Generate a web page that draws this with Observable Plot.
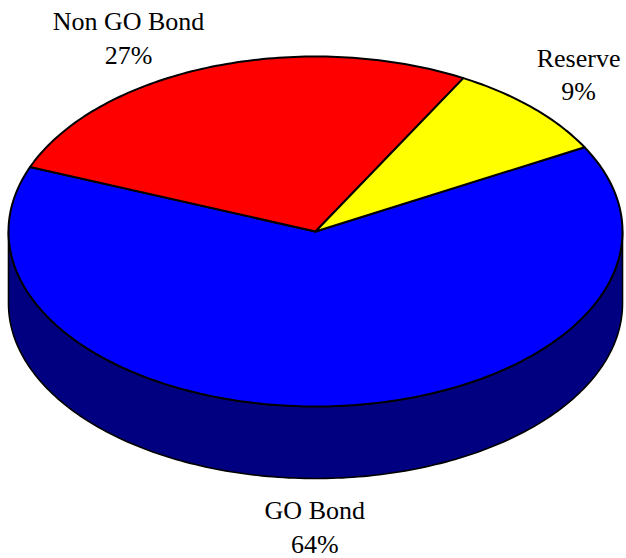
<!DOCTYPE html>
<html>
<head>
<meta charset="utf-8">
<script src="https://cdn.jsdelivr.net/npm/d3@7"></script>
<script src="https://cdn.jsdelivr.net/npm/@observablehq/plot@0.6"></script>
<style>
  html, body { margin: 0; padding: 0; background: #ffffff; }
  #chart { width: 626px; height: 558px; }
</style>
</head>
<body>
<div id="chart"></div>
<script>
// ---- data ----
const categories = ["GO Bond", "Non GO Bond", "Reserve"];
const values = [64, 27, 9];
const percentLabels = ["64%", "27%", "9%"];

// ---- styles ----
const topColors = ["#0000ff", "#ff0000", "#ffff00"];
const sideColors = ["#000080", "#800000", "#808000"];

// ---- layout (pixels in the drawing's own x/y scale) ----
const W = 626, H = 558;
const pie = {cx: 315, cy: 231, rx: 307, ry: 175, depth: 72, startDeg: 28.8};
const labelOffsets = {
  "GO Bond": {dx: -20, dy: 47},
  "Non GO Bond": {dx: -83, dy: -31},
  "Reserve": {dx: 46, dy: -35}
};

const rad = d => d * Math.PI / 180;
const ex = t => pie.cx + pie.rx * Math.cos(rad(t));
const ey = (t, down = 0) => pie.cy - pie.ry * Math.sin(rad(t)) + down;

const total = d3.sum(values);
let cum = 0;
const slices = categories.map((c, i) => {
  const a0 = pie.startDeg - cum / total * 360;
  cum += values[i];
  const a1 = pie.startDeg - cum / total * 360;
  return {cat: c, i, a0, a1, mid: (a0 + a1) / 2};
});

function arc(from, to, down = 0) {
  const n = Math.max(2, Math.ceil(Math.abs(to - from)));
  return d3.range(n + 1).map(k => {
    const t = from + (to - from) * k / n;
    return {x: ex(t), y: ey(t, down)};
  });
}

// top faces
const topPolys = slices.map(s => {
  const pts = [{x: pie.cx, y: pie.cy}, ...arc(s.a0, s.a1), {x: pie.cx, y: pie.cy}];
  return {s, pts};
});

// front side walls (visible for angles in [-180, 0] mod 360)
const sidePolys = [];
slices.forEach(s => {
  const lo = s.a1, hi = s.a0;
  for (let k = -2; k <= 1; k++) {
    const fLo = -180 + 360 * k, fHi = 0 + 360 * k;
    const a = Math.max(lo, fLo), b = Math.min(hi, fHi);
    if (b > a) {
      const pts = [...arc(a, b), ...arc(b, a, pie.depth)];
      pts.push(pts[0]);
      sidePolys.push({s, pts});
    }
  }
});

// labels
const labels = slices.map(s => {
  const down = Math.sin(rad(s.mid)) < 0 ? pie.depth : 0;
  const off = labelOffsets[s.cat];
  return {
    x: ex(s.mid) + off.dx,
    y: ey(s.mid, down) + off.dy,
    text: s.cat + "\n" + percentLabels[s.i]
  };
});

const marks = [];
sidePolys.forEach(p => marks.push(
  Plot.line(p.pts, {x: "x", y: "y", fill: sideColors[p.s.i], stroke: "#000", strokeWidth: 1.6, strokeLinejoin: "round", curve: "linear"})
));
topPolys.forEach(p => marks.push(
  Plot.line(p.pts, {x: "x", y: "y", fill: topColors[p.s.i], stroke: "#000", strokeWidth: 2, strokeLinejoin: "round", curve: "linear"})
));
marks.push(Plot.text(labels, {
  x: "x", y: "y", text: "text",
  fontSize: 26, lineHeight: 1.3, textAnchor: "middle", lineAnchor: "middle",
  fill: "#000", fontFamily: "'Liberation Serif', 'Times New Roman', serif"
}));

const chart = Plot.plot({
  width: W, height: H, margin: 0,
  x: {domain: [0, W], range: [0, W], axis: null},
  y: {domain: [0, H], range: [0, H], axis: null},
  style: {background: "#ffffff", fontFamily: "'Liberation Serif', serif"},
  marks
});
document.getElementById("chart").appendChild(chart);
</script>
</body>
</html>
